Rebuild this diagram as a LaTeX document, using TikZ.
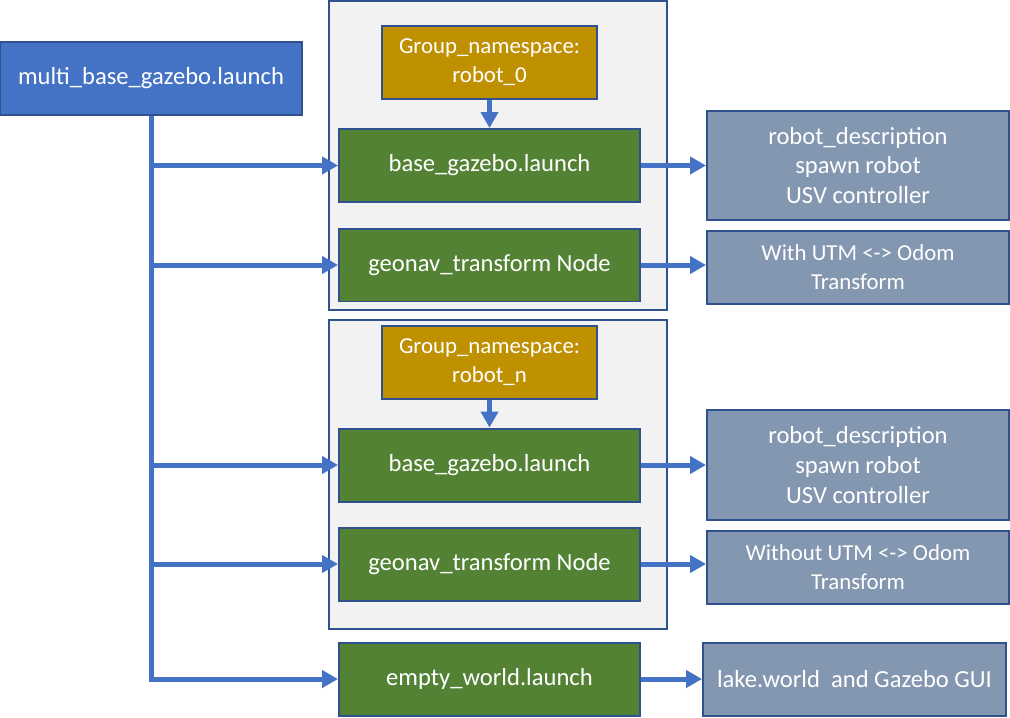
\documentclass[tikz,border=0pt]{standalone}
\usepackage{fontspec}
\setmainfont{Carlito}
\usetikzlibrary{arrows.meta}
\definecolor{launchblue}{HTML}{4472C4}
\definecolor{edgeblue}{HTML}{2F528F}
\definecolor{nsgold}{HTML}{BF9000}
\definecolor{rosgreen}{HTML}{548235}
\definecolor{outgrey}{HTML}{8497B0}
\definecolor{groupgrey}{HTML}{F2F2F2}
\begin{document}
\begin{tikzpicture}[x=0.02cm,y=-0.02cm,>={Triangle[length=0.32cm,width=0.34cm]},
    box/.style={draw=edgeblue,line width=0.04cm,text=white,align=center,
        minimum height=1.46cm,inner sep=0pt,font=\fontsize{14}{17}\selectfont},
    group/.style={draw=edgeblue,line width=0.04cm,fill=groupgrey,
        minimum width=6.76cm,minimum height=6.18cm,inner sep=0pt},
    launch/.style={box,fill=rosgreen,minimum width=6.02cm},
    ns/.style={box,fill=nsgold,minimum width=4.3cm,font=\fontsize{13}{16.5}\selectfont},
    resultbox/.style={box,fill=outgrey,minimum width=6.04cm},
    flow/.style={draw=launchblue,line width=0.1cm}]
\useasboundingbox (0,0) rectangle (1010,717);
\node[group] (grp0) at (498,155.5) {};
\node[group] (grpn) at (498,474.5) {};
\node[box,fill=launchblue,minimum width=6.04cm] (main) at (151,78.5) {multi\_base\_gazebo.launch};
% robot_0
\node[ns] (ns0) at (489.5,62.5) {Group\_namespace:\\robot\_0};
\node[launch] (base0) at (489.5,165.5) {base\_gazebo.launch};
\node[launch] (geo0) at (489.5,265) {geonav\_transform Node};
% robot_n
\node[ns] (nsn) at (489.5,362) {Group\_namespace:\\robot\_n};
\node[launch] (basen) at (489.5,465) {base\_gazebo.launch};
\node[launch] (geon) at (489.5,564) {geonav\_transform Node};
\node[launch] (world) at (489.5,679) {empty\_world.launch};
% outputs
\node[resultbox,minimum height=2.18cm] (desc0) at (858,165.5) {robot\_description\\spawn robot\\USV controller};
\node[resultbox,font=\fontsize{13}{16.5}\selectfont] (utm0) at (858,267.5) {With UTM <-> Odom\\Transform};
\node[resultbox,minimum height=2.2cm] (descn) at (858,465) {robot\_description\\spawn robot\\USV controller};
\node[resultbox,font=\fontsize{13}{16.5}\selectfont] (utmn) at (858,567) {Without UTM <-> Odom\\Transform};
\node[resultbox,minimum width=6.06cm] (gui) at (854.5,679) {lake.world\ \ and Gazebo GUI};
% trunk and branches
\draw[flow,->] (main.south) |- (world.west);
\foreach \n in {base0,geo0,basen,geon}
    \draw[flow,->] (main.south |- \n) -- (\n.west);
\draw[flow,->] (ns0) -- (base0);
\draw[flow,->] (nsn) -- (basen);
\draw[flow,->] (base0) -- (desc0);
\draw[flow,->] (geo0.east) -- (geo0.east -| utm0.west);
\draw[flow,->] (basen) -- (descn);
\draw[flow,->] (geon.east) -- (geon.east -| utmn.west);
\draw[flow,->] (world) -- (gui);
\end{tikzpicture}
\end{document}
